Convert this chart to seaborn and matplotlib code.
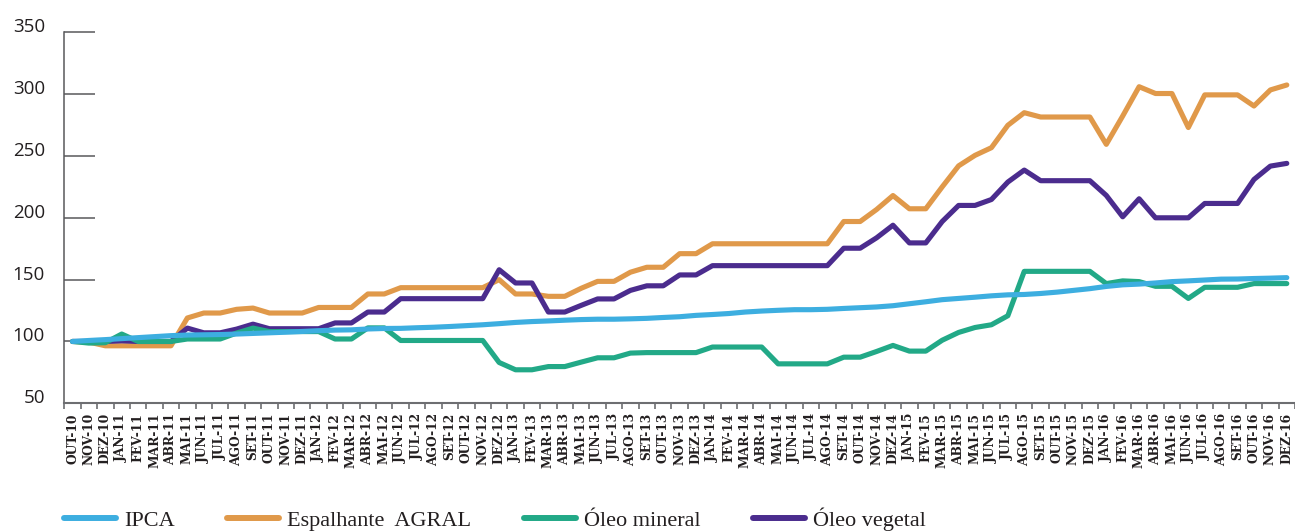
import numpy as np
import pandas as pd
import matplotlib
matplotlib.use("Agg")
import matplotlib.pyplot as plt
from matplotlib.lines import Line2D
import seaborn as sns

meses = [
    "OUT-10", "NOV-10", "DEZ-10",
    "JAN-11", "FEV-11", "MAR-11", "ABR-11", "MAI-11", "JUN-11", "JUL-11", "AGO-11", "SET-11", "OUT-11", "NOV-11", "DEZ-11",
    "JAN-12", "FEV-12", "MAR-12", "ABR-12", "MAI-12", "JUN-12", "JUL-12", "AGO-12", "SET-12", "OUT-12", "NOV-12", "DEZ-12",
    "JAN-13", "FEV-13", "MAR-13", "ABR-13", "MAI-13", "JUN-13", "JUL-13", "AGO-13", "SET-13", "OUT-13", "NOV-13", "DEZ-13",
    "JAN-14", "FEV-14", "MAR-14", "ABR-14", "MAI-14", "JUN-14", "JUL-14", "AGO-14", "SET-14", "OUT-14", "NOV-14", "DEZ-14",
    "JAN-15", "FEV-15", "MAR-15", "ABR-15", "MAI-15", "JUN-15", "JUL-15", "AGO-15", "SET-15", "OUT-15", "NOV-15", "DEZ-15",
    "JAN-16", "FEV-16", "MAR-16", "ABR-16", "MAI-16", "JUN-16", "JUL-16", "AGO-16", "SET-16", "OUT-16", "NOV-16", "DEZ-16",
]

ipca = [
    100.0, 100.8, 101.5,
    102.3, 103.1, 103.9, 104.7, 105.2, 105.4, 105.6, 106.0, 106.5, 107.0, 107.5, 108.1,
    108.7, 109.2, 109.4, 110.1, 110.5, 110.6, 111.1, 111.5, 112.1, 112.8, 113.5, 114.4,
    115.4, 116.1, 116.6, 117.2, 117.7, 118.0, 118.0, 118.3, 118.7, 119.4, 120.0, 121.1,
    121.8, 122.6, 123.8, 124.6, 125.2, 125.7, 125.7, 126.0, 126.7, 127.3, 127.9, 128.9,
    130.5, 132.1, 133.8, 134.8, 135.8, 136.9, 137.7, 138.0, 138.8, 139.9, 141.3, 142.7,
    144.5, 145.8, 146.4, 147.3, 148.4, 149.0, 149.7, 150.4, 150.5, 150.9, 151.2, 151.6,
]

espalhante = [
    100.0, 99.5, 96.5,
    96.5, 96.5, 96.5, 96.5, 119.0, 123.0, 123.0, 126.0, 127.0, 123.0, 123.0, 123.0,
    127.5, 127.5, 127.5, 138.4, 138.4, 143.5, 143.5, 143.5, 143.5, 143.5, 143.5, 150.0,
    138.4, 138.4, 136.5, 136.5, 143.0, 148.6, 148.6, 156.0, 160.0, 160.0, 171.0, 171.0,
    179.0, 179.0, 179.0, 179.0, 179.0, 179.0, 179.0, 179.0, 197.0, 197.0, 206.7, 218.0,
    207.3, 207.3, 225.0, 242.0, 250.5, 256.7, 274.8, 285.0, 281.5, 281.5, 281.5, 281.5,
    259.4, 282.3, 306.0, 300.5, 300.5, 273.0, 299.4, 299.4, 299.4, 290.4, 303.4, 307.4,
]

oleo_mineral = [
    100.0, 98.7, 99.0,
    106.0, 100.0, 100.0, 100.0, 102.0, 102.0, 102.0, 106.8, 110.8, 108.0, 108.0, 108.0,
    108.0, 102.0, 102.0, 111.0, 111.0, 100.8, 100.8, 100.8, 100.8, 100.8, 100.8, 83.0,
    77.1, 77.1, 79.7, 79.7, 83.3, 86.8, 86.8, 90.6, 91.0, 91.0, 91.0, 91.0,
    95.5, 95.5, 95.5, 95.5, 81.9, 81.9, 81.9, 81.9, 87.3, 87.3, 91.9, 96.8,
    92.2, 92.2, 101.0, 107.3, 111.3, 113.5, 120.8, 156.7, 156.7, 156.7, 156.7, 156.7,
    146.8, 149.0, 148.4, 144.6, 144.6, 134.8, 143.8, 143.8, 143.8, 146.8, 146.8, 146.8,
]

oleo_vegetal = [
    100.0, 100.0, 100.0,
    100.5, 100.0, 100.0, 100.0, 110.8, 107.0, 107.0, 110.0, 114.0, 110.3, 110.3, 110.3,
    110.3, 115.0, 115.0, 123.8, 123.8, 134.6, 134.6, 134.6, 134.6, 134.6, 134.6, 158.0,
    147.3, 147.3, 123.8, 123.8, 129.2, 134.4, 134.4, 141.3, 145.0, 145.0, 153.8, 153.8,
    161.3, 161.3, 161.3, 161.3, 161.3, 161.3, 161.3, 161.3, 175.4, 175.4, 183.8, 194.0,
    179.7, 179.7, 197.0, 210.0, 210.0, 214.8, 228.9, 238.6, 230.0, 230.0, 230.0, 230.0,
    218.1, 200.8, 215.4, 200.0, 200.0, 200.0, 211.6, 211.6, 211.6, 231.0, 241.8, 244.0,
]

nomes = ["IPCA", "Espalhante  AGRAL", "Óleo mineral", "Óleo vegetal"]
cores = {
    "IPCA": "#3DAEE0",
    "Espalhante  AGRAL": "#E0994A",
    "Óleo mineral": "#22A987",
    "Óleo vegetal": "#4B2C8E",
}
y_ticks = [50, 100, 150, 200, 250, 300, 350]

sns.set_theme(style="white")
plt.rcParams['font.family'] = ['DejaVu Sans']

W, H = 1295, 532
fig = plt.figure(figsize=(W / 100, H / 100), dpi=100)
ax = fig.add_axes([64.3 / W, (H - 403.3) / H, 1 - 64.3 / W, (403.3 - 32.3) / H])

df = pd.DataFrame({
    "idx": np.arange(len(meses)),
    "mes": meses,
    "IPCA": ipca,
    "Espalhante  AGRAL": espalhante,
    "Óleo mineral": oleo_mineral,
    "Óleo vegetal": oleo_vegetal,
})
long = df.melt(id_vars=["idx", "mes"], var_name="serie", value_name="valor")

ordem_desenho = ["Espalhante  AGRAL", "Óleo vegetal", "Óleo mineral", "IPCA"]
for z, nome in enumerate(ordem_desenho):
    sns.lineplot(data=long[long["serie"] == nome], x="idx", y="valor",
                 color=cores[nome], lw=3.7, ax=ax, legend=False,
                 zorder=3 + z, sort=False)

ax.set_xlim(-0.5, 74.0)
ax.set_ylim(50, 350)
ax.set_xlabel("")
ax.set_ylabel("")

ax.set_xticks(np.arange(len(meses)))
ax.set_xticklabels(meses, rotation=90, fontfamily="DejaVu Serif",
                   fontweight="bold", fontsize=8.8, color="#231f20")
ax.set_xticks(np.arange(-0.5, len(meses), 1), minor=True)
ax.tick_params(axis="x", which="major", length=0, pad=7, bottom=True)
ax.tick_params(axis="x", which="minor", length=4, width=1.2,
               color="#6d6e71", direction="out", bottom=True)

ax.set_yticks(y_ticks)
ax.set_yticklabels([str(v) for v in y_ticks], fontfamily="Open Sans",
                   fontsize=13.5, color="#231f20")
for lbl in ax.get_yticklabels():
    lbl.set_verticalalignment("baseline")
ax.tick_params(axis="y", direction="in", length=22.5, width=1.1,
               color="#58595b", pad=14, left=True)

for s in ["top", "right"]:
    ax.spines[s].set_visible(False)
ax.spines["left"].set_color("#58595b")
ax.spines["left"].set_linewidth(1.1)
ax.spines["bottom"].set_color("#6d6e71")
ax.spines["bottom"].set_linewidth(1.5)
ax.grid(False)

handles = [Line2D([0], [0], color=cores[n], lw=4.3, solid_capstyle="round")
           for n in nomes]
leg = fig.legend(handles, nomes, loc="center left",
                 bbox_to_anchor=(64 / W, 13 / H), ncol=4, frameon=False,
                 handlelength=2.35, handletextpad=0.36, columnspacing=2.35,
                 borderpad=0, borderaxespad=0,
                 prop={"family": "Liberation Serif", "size": 16})
for t in leg.get_texts():
    t.set_color("#231f20")

fig.savefig("out.png", dpi=100)
